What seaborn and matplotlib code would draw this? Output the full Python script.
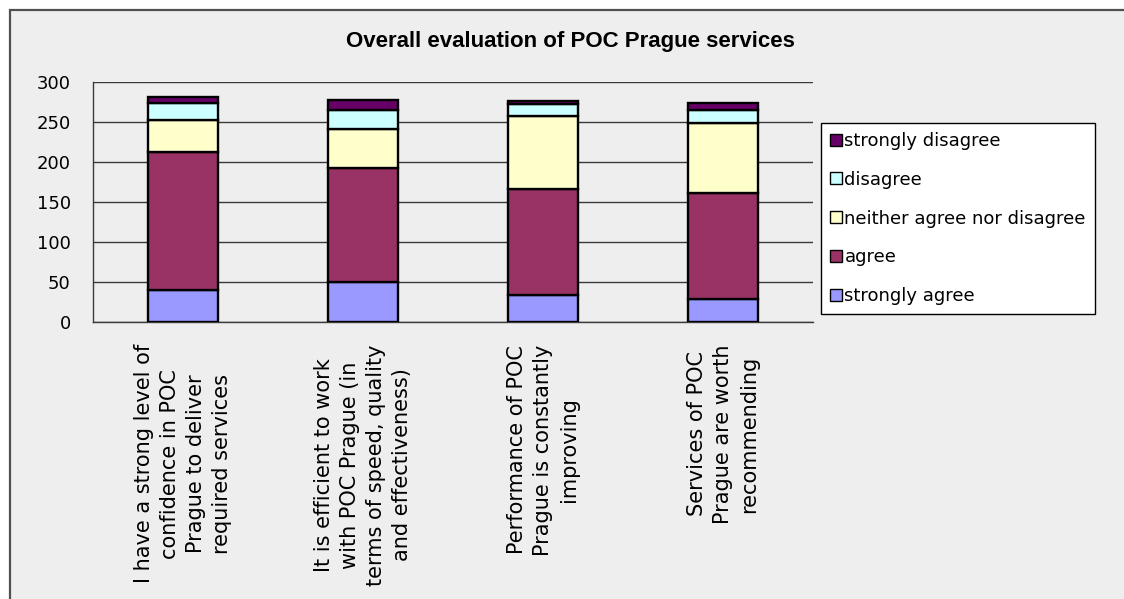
import matplotlib
matplotlib.use("Agg")
import matplotlib.pyplot as plt
from matplotlib import font_manager
from matplotlib.patches import Rectangle, Patch
from matplotlib.ticker import FixedLocator
import numpy as np
import seaborn as sns

# ---- data -------------------------------------------------------------
statements = [
    "I have a strong level of\nconfidence in POC\nPrague to deliver\nrequired services",
    "It is efficient to work\nwith POC Prague (in\nterms of speed, quality\nand effectiveness)",
    "Performance of POC\nPrague is constantly\nimproving",
    "Services of POC\nPrague are worth\nrecommending",
]
strongly_agree = [40, 50, 34, 29]
agree = [173, 143, 132, 132]
neither = [40, 48, 92, 88]
disagree = [21, 24, 14, 16]
strongly_disagree = [7, 13, 4, 9]

series_names = ["strongly agree", "agree", "neither agree nor disagree",
                "disagree", "strongly disagree"]
series_values = [strongly_agree, agree, neither, disagree, strongly_disagree]
series_colors = ["#9999FF", "#993366", "#FFFFCC", "#CCFFFF", "#660066"]

title = "Overall evaluation of POC Prague services"
y_ticks = [0, 50, 100, 150, 200, 250, 300]

# ---- style ------------------------------------------------------------
sns.set_style("white")
plt.rcParams["font.family"] = ["DejaVu Sans"]
plt.rcParams["text.color"] = "black"

W, H = 1124, 599
fig = plt.figure(figsize=(W / 100, H / 100), dpi=100)
fig.patch.set_facecolor("white")

# grey chart area with a dark frame
frame = Rectangle((10 / W, -0.05), 1.2, 1 - 10 / H + 0.05,
                  transform=fig.transFigure, facecolor="#EEEEEE",
                  edgecolor="#505050", linewidth=1.6, zorder=-10)
fig.patches.append(frame)

ax = fig.add_axes([93 / W, (H - 322) / H, (813 - 93) / W, 240 / H])
ax.set_zorder(1)
ax.patch.set_alpha(0)

bottom = np.zeros(len(statements))
for name, vals, col in zip(series_names, series_values, series_colors):
    sns.barplot(x=statements, y=vals, bottom=bottom, color=col,
                edgecolor="black", linewidth=1.7, width=0.39,
                saturation=1, ax=ax, zorder=3)
    bottom = bottom + np.asarray(vals)

ax.set_ylim(0, 300)
ax.set_xlim(-0.5, len(statements) - 0.5)
ax.yaxis.set_major_locator(FixedLocator(y_ticks))
ax.grid(axis="y", color="#3a3a3a", linewidth=1.0, zorder=1)
ax.set_axisbelow(True)

for s in ["top", "right"]:
    ax.spines[s].set_visible(False)
for s in ["left", "bottom"]:
    ax.spines[s].set_color("#3a3a3a")
    ax.spines[s].set_linewidth(1.0)

ax.tick_params(axis="y", length=5, width=1.0, color="#3a3a3a",
               pad=11, labelsize=13, labelcolor="black")
ax.set_yticklabels([str(v) for v in y_ticks])

# category separators as outward ticks, labels without tick marks
ax.set_xticks(range(len(statements)))
ax.set_xticks(np.arange(-0.5, len(statements), 1.0), minor=True)
ax.tick_params(axis="x", which="minor", length=5, width=1.0, color="#3a3a3a")
ax.tick_params(axis="x", which="major", length=0, pad=16, labelcolor="black")
ax.set_xticklabels(statements, rotation=90, fontsize=15,
                   ha="center", va="top", linespacing=1.38,
                   multialignment="center")
ax.set_xlabel("")
ax.set_ylabel("")

# title: condensed bold face when available
def _has_font(name):
    try:
        font_manager.findfont(name, fallback_to_default=False)
        return True
    except Exception:
        return False

if _has_font("Liberation Sans Narrow"):
    fig.text(570 / W, 1 - 41 / H, title, ha="center", va="center",
             family="Liberation Sans Narrow", fontweight="bold", fontsize=17)
else:
    fig.text(570 / W, 1 - 41 / H, title, ha="center", va="center",
             family="Liberation Sans", fontweight="bold", fontsize=16)

handles = [Patch(facecolor=c, edgecolor="black", linewidth=1.0)
           for c in series_colors][::-1]
labels = series_names[::-1]
leg = fig.legend(handles, labels, loc="upper left",
                 bbox_to_anchor=(821 / W, 1 - 123 / H), fontsize=13,
                 frameon=True, fancybox=False, framealpha=1,
                 facecolor="white", edgecolor="black",
                 handlelength=0.65, handleheight=0.65, handletextpad=0.15,
                 labelspacing=1.15, borderpad=0.5, borderaxespad=0)
leg.get_frame().set_linewidth(1.0)

fig.savefig("out.png", dpi=100)
